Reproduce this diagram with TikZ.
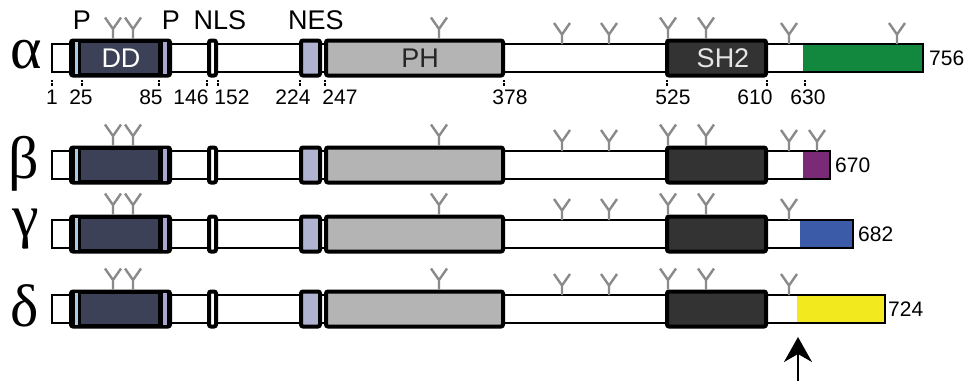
\documentclass[tikz,border=0pt]{standalone}
\usepackage{fontspec}
\setmainfont{Liberation Sans}
\newfontfamily\greekf{Liberation Serif}
\usetikzlibrary{arrows.meta}
\definecolor{ddnavy}{HTML}{3C4157}
\definecolor{stripeblue}{HTML}{A8CBE8}
\definecolor{stripelilac}{HTML}{A9A6D0}
\definecolor{nesc}{HTML}{B0B4D0}
\definecolor{phgray}{HTML}{B4B4B4}
\definecolor{shdark}{HTML}{333333}
\definecolor{ctgreen}{HTML}{12883E}
\definecolor{ctpurple}{HTML}{7B2A78}
\definecolor{ctblue}{HTML}{3B5BA8}
\definecolor{ctyellow}{HTML}{F2EA1F}
\definecolor{ygray}{HTML}{8A8A8A}
\tikzset{
  barline/.style={draw=black,line width=2.5pt},
  dombox/.style={draw=black,line width=4pt,rounded corners=2pt},
  ymark/.style={draw=ygray,line width=2.4pt},
  tick/.style={draw=black,line width=2pt},
  lbl/.style={font=\fontsize{27}{27}\selectfont,inner sep=0pt},
  num/.style={font=\fontsize{21}{21}\selectfont,inner sep=0pt},
  greek/.style={font=\greekf\fontsize{60}{60}\selectfont,inner sep=0pt}
}
\newcommand\protrow[4]{%
  \fill[#4] (#2,#1-14) rectangle (#3,#1+14);
  \draw[barline] (52,#1-14) rectangle (#3,#1+14);
  \draw[dombox,fill=black] (71,#1-17.5) rectangle (170,#1+17.5);
  \fill[stripeblue] (74.5,#1-16) rectangle (77.5,#1+16);
  \fill[ddnavy] (81,#1-15) rectangle (158,#1+15);
  \fill[stripelilac] (163,#1-16) rectangle (166.5,#1+16);
  \draw[dombox,fill=white] (209,#1-17.5) rectangle (216,#1+17.5);
  \draw[dombox,fill=nesc] (301,#1-17.5) rectangle (320,#1+17.5);
  \draw[dombox,fill=phgray] (326,#1-17.5) rectangle (503,#1+17.5);
  \draw[dombox,fill=shdark] (667,#1-17.5) rectangle (766,#1+17.5);
}
\newcommand\tyr[2]{\draw[ymark] (#1,#2) -- (#1,#2-9.5) -- (#1-8,#2-21) (#1,#2-9.5) -- (#1+8,#2-21);}
\newcommand\commonys[1]{%
  \tyr{113}{#1-19.5}\tyr{133}{#1-19.5}
  \tyr{439}{#1-19.5}
  \tyr{562}{#1-14}\tyr{609}{#1-14}
  \tyr{668}{#1-19.5}\tyr{706}{#1-19.5}
  \tyr{789}{#1-14}
}
\begin{document}
\begin{tikzpicture}[x=1pt,y=-1pt]
\useasboundingbox (0,0) rectangle (969,381);
% rows
\protrow{58}{803}{923}{ctgreen}
\protrow{165}{803}{830}{ctpurple}
\protrow{234}{800}{853}{ctblue}
\protrow{309}{797}{885}{ctyellow}
% Y markers
\commonys{58}\tyr{897}{58-14}
\commonys{165}\tyr{817}{165-14}
\commonys{234}
\commonys{309}
% Greek labels
\node[greek] (ga) at (26,55) {α};
\node[greek] (gb) at (24,164) {β};
\node[greek] (gg) at (26,229) {γ};
\node[greek] (gd) at (25,306) {δ};
% domain labels
\node[lbl,text=white] (dd) at (121,58) {DD};
\node[lbl,text=black!85] (ph) at (420,58) {PH};
\node[lbl,text=white!90!black] (sh) at (723,58) {SH2};
% top labels
\node[lbl] (p1) at (82,20) {P};
\node[lbl] (p2) at (171,20) {P};
\node[lbl] (nls) at (220,20) {NLS};
\node[lbl] (nes) at (316,20) {NES};
% end lengths
\node[num,anchor=west] (l756) at (929,58) {756};
\node[num,anchor=west] (l670) at (835,165) {670};
\node[num,anchor=west] (l682) at (858,234) {682};
\node[num,anchor=west] (l724) at (888,309) {724};
% ticks and positions
\foreach \tx in {52,82,159,207,218,300,325,504,667,767,805}{
  \draw[tick] (\tx,80) -- (\tx,81.5) (\tx,83) -- (\tx,86);
}
\node[num] (n1) at (52,97) {1};
\node[num] (n25) at (81,97) {25};
\node[num] (n85) at (151,97) {85};
\node[num] (n146) at (191,97) {146};
\node[num] (n152) at (232,97) {152};
\node[num] (n224) at (293,97) {224};
\node[num] (n247) at (340,97) {247};
\node[num] (n378) at (510,97) {378};
\node[num] (n525) at (673,97) {525};
\node[num] (n610) at (755,97) {610};
\node[num] (n630) at (808,97) {630};
% arrow
\coordinate (abot) at (798,381);
\coordinate (atop) at (798,337);
\draw[line width=2.5pt,-{Stealth[length=25pt,width=28pt,inset=8pt]}] (abot) -- (atop);
\end{tikzpicture}
\end{document}
